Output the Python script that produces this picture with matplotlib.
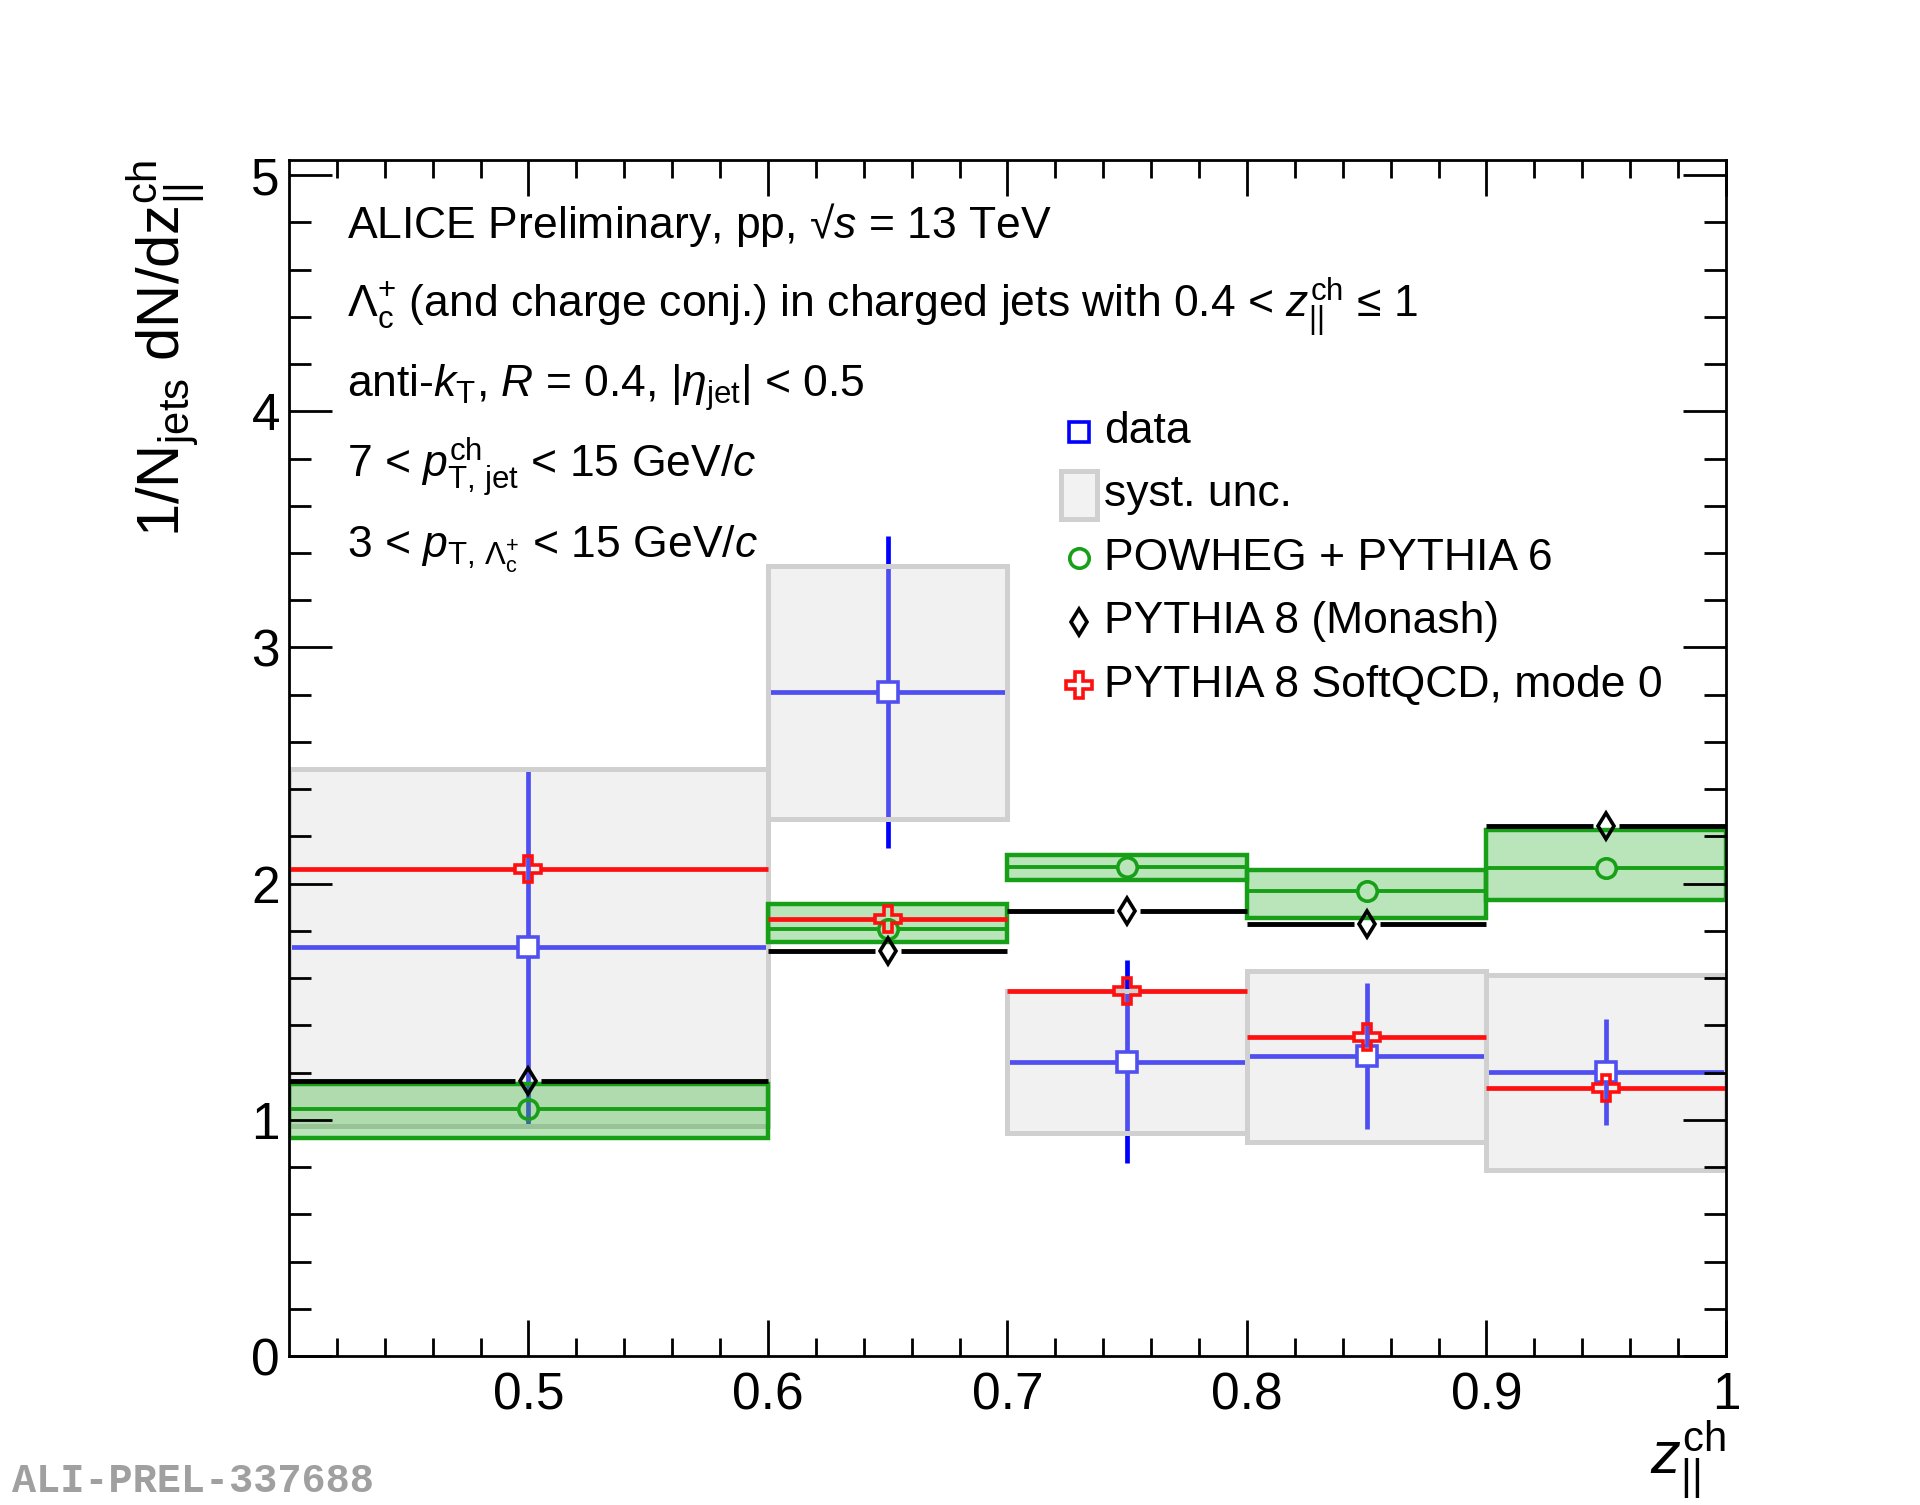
import matplotlib
matplotlib.use("Agg")
import matplotlib.pyplot as plt
from matplotlib.patches import Rectangle
import numpy as np

plt.rcParams['font.family'] = ['Liberation Sans', 'DejaVu Sans']
plt.rcParams['mathtext.fontset'] = 'custom'
plt.rcParams['mathtext.rm'] = 'Liberation Sans'
plt.rcParams['mathtext.it'] = 'Liberation Sans:italic'
plt.rcParams['mathtext.bf'] = 'Liberation Sans:bold'
plt.rcParams['mathtext.sf'] = 'Liberation Sans'

# bins in z_||^ch
bin_lo = [0.4, 0.6, 0.7, 0.8, 0.9]
bin_hi = [0.6, 0.7, 0.8, 0.9, 1.0]
bin_mid = [0.5, 0.65, 0.75, 0.85, 0.95]

# data with stat and syst uncertainties
data_y = [1.73, 2.81, 1.246, 1.27, 1.202]
data_stat = [0.76, 0.66, 0.43, 0.31, 0.225]
data_syst = [0.755, 0.535, 0.30, 0.362, 0.413]

# POWHEG + PYTHIA 6 (central value and band)
pow_y = [1.045, 1.81, 2.07, 1.968, 2.067]
pow_lo = [0.925, 1.751, 2.015, 1.854, 1.93]
pow_hi = [1.15, 1.912, 2.12, 2.057, 2.227]

# PYTHIA 8 (Monash)
monash_y = [1.165, 1.715, 1.885, 1.829, 2.244]

# PYTHIA 8 SoftQCD, mode 0
soft_y = [2.06, 1.849, 1.546, 1.352, 1.135]

x_range = (0.4, 1.0)
y_range = (0.0, 5.064)

DPI = 100
fig = plt.figure(figsize=(19.2, 15.05), dpi=DPI)
ax_rect = [0.1505, 0.0990, 0.7484, 0.7947]
ax = fig.add_axes(ax_rect)
ax.set_xlim(*x_range)
ax.set_ylim(*y_range)

# pixel -> data conversion, used for the gaps ROOT leaves around markers
px_x = (x_range[1] - x_range[0]) / (ax_rect[2] * 1920)
px_y = (y_range[1] - y_range[0]) / (ax_rect[3] * 1505)

blue = '#0000ff'
blue_in = '#5050f0'
green = '#17a017'
red = '#ff1010'
lw = 3.4
mew = 2.6

mid = np.array(bin_mid)
lo = np.array(bin_lo)
hi = np.array(bin_hi)


def gapped_h(y, gap_px, **kw):
    g = gap_px * px_x
    ax.hlines(y, lo, mid - g, capstyle='butt', **kw)
    ax.hlines(y, mid + g, hi, capstyle='butt', **kw)


# data stat. error bars (drawn first, syst boxes go on top)
dy = np.array(data_y)
st = np.array(data_stat)
gapped_h(dy, 10, colors=blue, lw=lw, zorder=2)
ax.vlines(mid, dy - st, dy - 10 * px_y, colors=blue, lw=lw, capstyle='butt', zorder=2)
ax.vlines(mid, dy + 10 * px_y, dy + st, colors=blue, lw=lw, capstyle='butt', zorder=2)

# syst boxes
for i in range(len(bin_mid)):
    ax.add_patch(Rectangle((bin_lo[i], data_y[i] - data_syst[i]), bin_hi[i] - bin_lo[i],
                           2 * data_syst[i], facecolor=(0.86, 0.86, 0.86, 0.365),
                           edgecolor='#d0d0d0', lw=3.6, zorder=3))

# POWHEG band
for i in range(len(bin_mid)):
    ax.add_patch(Rectangle((bin_lo[i], pow_lo[i]), bin_hi[i] - bin_lo[i],
                           pow_hi[i] - pow_lo[i], facecolor=(0.0, 0.63, 0.0, 0.27),
                           edgecolor=green, lw=3.2, zorder=4))
gapped_h(pow_y, 11, colors=green, lw=2.8, zorder=5)
ax.plot(bin_mid, pow_y, ls='none', marker='o', ms=14, mfc='none', mec=green, mew=mew, zorder=6)

# PYTHIA 8 Monash
gapped_h(monash_y, 13, colors='black', lw=3.5, zorder=5)
ax.plot(bin_mid, monash_y, ls='none', marker='d', ms=13.7, mfc='none', mec='black', mew=mew, zorder=6)

# PYTHIA 8 SoftQCD
gapped_h(soft_y, 13, colors=red, lw=lw, zorder=5)
ax.plot(bin_mid, soft_y, ls='none', marker='P', ms=19, mfc='none', mec=red, mew=mew, zorder=7)

# data markers
ax.plot(bin_mid, data_y, ls='none', marker='s', ms=14, mfc='white', mec=blue_in, mew=mew, zorder=6)

# axes style, frame and ticks above the boxes
ax.set_xticks([0.5, 0.6, 0.7, 0.8, 0.9, 1.0])
ax.set_xticklabels(['0.5', '0.6', '0.7', '0.8', '0.9', '1'])
ax.set_xticks(np.arange(0.42, 1.0, 0.02), minor=True)
ax.set_yticks([0, 1, 2, 3, 4, 5])
ax.set_yticks(np.arange(0.2, 5.01, 0.2), minor=True)
ax.tick_params(which='both', direction='in', top=True, right=True, width=2, labelsize=37)
ax.tick_params(axis='x', which='major', length=26, pad=11)
ax.tick_params(axis='x', which='minor', length=13)
ax.tick_params(axis='y', which='major', length=31, pad=6.5)
ax.tick_params(axis='y', which='minor', length=15.6)
ax.xaxis.set_zorder(10)
ax.yaxis.set_zorder(10)
for s in ax.spines.values():
    s.set_linewidth(2)
    s.set_zorder(10)

ax.set_xlabel(r'$z_{||}^{\rm ch}$', fontsize=43, ha='right', va='baseline')
ax.xaxis.set_label_coords(1.0, -0.0995)
ax.set_ylabel(r'$\rm 1/N_{jets}\ dN/dz_{||}^{ch}$', fontsize=43, ha='right', va='center')
ax.yaxis.set_label_coords(-0.0855, 1.0)

# annotation text block
info = [
    r'ALICE Preliminary, pp, √$s$ = 13 TeV',
    r'$\Lambda_{\rm c}^{+}$ (and charge conj.) in charged jets with 0.4 < $z_{||}^{\rm ch}$ ≤ 1',
    r'anti-$k_{\rm T}$, $R$ = 0.4, $|\eta_{\rm jet}|$ < 0.5',
    r'7 < $p_{\rm T,\,jet}^{\rm ch}$ < 15 GeV/$c$',
    r'3 < $p_{{\rm T},\,\Lambda_{\rm c}^{+}}$ < 15 GeV/$c$',
]
info_y = [0.9348, 0.8679, 0.8018, 0.7341, 0.6681]
for t, y in zip(info, info_y):
    ax.text(0.0404, y, t, transform=ax.transAxes, fontsize=32, va='baseline', ha='left')

# legend, laid out by hand like the ROOT TLegend
leg_x, leg_tx = 0.5498, 0.5675
leg_y = [0.7728, 0.7199, 0.6672, 0.6140, 0.5610]
leg_labels = ['data', 'syst. unc.', 'POWHEG + PYTHIA 6', 'PYTHIA 8 (Monash)',
              'PYTHIA 8 SoftQCD, mode 0']
ax.plot(leg_x, leg_y[0], transform=ax.transAxes, marker='s', ms=14, mfc='white',
        mec=blue, mew=mew, clip_on=False)
ax.add_patch(Rectangle((leg_x - 0.0125, leg_y[1] - 0.020), 0.025, 0.040, transform=ax.transAxes,
                       facecolor='#f2f2f2', edgecolor='#d0d0d0', lw=3.6))
ax.plot(leg_x, leg_y[2], transform=ax.transAxes, marker='o', ms=14, mfc='none',
        mec=green, mew=mew)
ax.plot(leg_x, leg_y[3], transform=ax.transAxes, marker='d', ms=13.7, mfc='none',
        mec='black', mew=mew)
ax.plot(leg_x, leg_y[4], transform=ax.transAxes, marker='P', ms=19, mfc='none',
        mec=red, mew=mew)
for t, y in zip(leg_labels, leg_y):
    ax.text(leg_tx, y, t, transform=ax.transAxes, fontsize=32, va='center', ha='left')

fig.text(12 / 1920, 1 - 1492 / 1505, 'ALI-PREL-337688', fontsize=29, family='Liberation Mono',
         weight='bold', color='#a0a0a0', ha='left', va='baseline')

fig.savefig('out.png', dpi=DPI)
